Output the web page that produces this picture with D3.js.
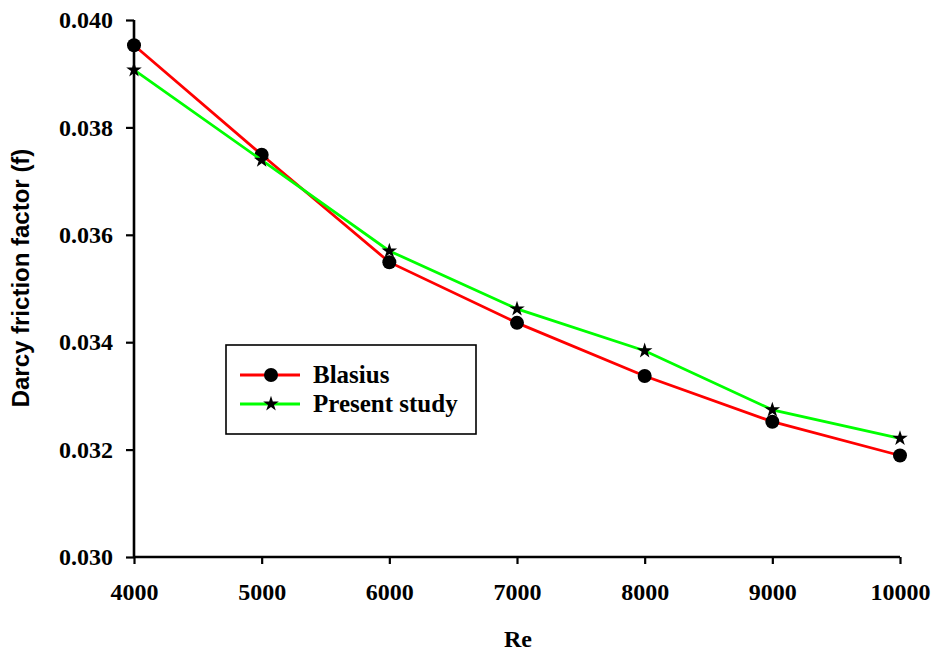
<!DOCTYPE html>
<html>
<head>
<meta charset="utf-8">
<script src="https://cdn.jsdelivr.net/npm/d3@7"></script>
<style>
  html, body { margin: 0; padding: 0; background: #fff; }
  svg { display: block; }
</style>
</head>
<body>
<svg id="chart" width="939" height="656"></svg>
<script>
// Reynolds numbers and friction factors
const reynolds = [4000, 5000, 6000, 7000, 8000, 9000, 10000];
const blasius = [0.03953, 0.03749, 0.03549, 0.03436, 0.03337, 0.03252, 0.03189];
const present = [0.03907, 0.03739, 0.03570, 0.03462, 0.03384, 0.03274, 0.03221];
const xTicks = [4000, 5000, 6000, 7000, 8000, 9000, 10000];
const yTicks = [0.030, 0.032, 0.034, 0.036, 0.038, 0.040];

const svg = d3.select("#chart");
const plot = { left: 134, right: 900, top: 20, bottom: 557 };

const x = d3.scaleLinear().domain([4000, 10000]).range([plot.left, plot.right]);
const y = d3.scaleLinear().domain([0.030, 0.040]).range([plot.bottom, plot.top]);

const serif = "'Liberation Serif', 'Times New Roman', serif";
const sans = "'Liberation Sans', Arial, sans-serif";

// Axes
const xAxis = svg.append("g")
  .attr("transform", `translate(0,${plot.bottom})`)
  .call(d3.axisBottom(x).tickValues(xTicks).tickFormat(d3.format("d")).tickSize(7).tickPadding(19));
const yAxis = svg.append("g")
  .attr("transform", `translate(${plot.left},0)`)
  .call(d3.axisLeft(y).tickValues(yTicks).tickFormat(d3.format(".3f")).tickSize(8).tickPadding(13));

[xAxis, yAxis].forEach(g => {
  g.select(".domain").attr("stroke", "#000").attr("stroke-width", 2.6);
  g.selectAll(".tick line").attr("stroke", "#000").attr("stroke-width", 2.2);
  g.selectAll(".tick text")
    .attr("fill", "#000")
    .style("font-family", serif)
    .style("font-weight", "bold")
    .style("font-size", "24px");
});
// Domain paths without outer tick stubs
xAxis.select(".domain").attr("d", `M${plot.left},0H${plot.right}`);
yAxis.select(".domain").attr("d", `M0,${plot.bottom}V${plot.top}`);

// Axis titles
svg.append("text")
  .attr("x", 518).attr("y", 647)
  .attr("text-anchor", "middle")
  .style("font-family", serif).style("font-weight", "bold").style("font-size", "24px")
  .text("Re");
svg.append("text")
  .attr("transform", "translate(29,278) rotate(-90)")
  .attr("text-anchor", "middle")
  .style("font-family", sans).style("font-weight", "bold").style("font-size", "24px")
  .text("Darcy friction factor (f)");

const line = d3.line().x(d => x(d[0])).y(d => y(d[1]));
const star = d3.symbol().type(d3.symbolStar).size(75);

function drawSeries(values, color, marker) {
  const pts = reynolds.map((r, i) => [r, values[i]]);
  svg.append("path")
    .datum(pts)
    .attr("fill", "none")
    .attr("stroke", color)
    .attr("stroke-width", 2.8)
    .attr("d", line);
  const g = svg.append("g");
  if (marker === "circle") {
    g.selectAll("circle").data(pts).join("circle")
      .attr("cx", d => x(d[0])).attr("cy", d => y(d[1])).attr("r", 7)
      .attr("fill", "#000");
  } else {
    g.selectAll("path").data(pts).join("path")
      .attr("transform", d => `translate(${x(d[0])},${y(d[1])})`)
      .attr("d", star)
      .attr("fill", "#000");
  }
}

drawSeries(blasius, "#ff0000", "circle");
drawSeries(present, "#00ff00", "star");

// Legend
const legend = svg.append("g");
legend.append("rect")
  .attr("x", 226).attr("y", 345).attr("width", 250).attr("height", 89)
  .attr("fill", "#fff").attr("stroke", "#000").attr("stroke-width", 1.6);
const entries = [
  { label: "Blasius", color: "#ff0000", marker: "circle", cy: 375 },
  { label: "Present study", color: "#00ff00", marker: "star", cy: 404 }
];
entries.forEach(e => {
  legend.append("line")
    .attr("x1", 240).attr("x2", 300).attr("y1", e.cy).attr("y2", e.cy)
    .attr("stroke", e.color).attr("stroke-width", 2.8);
  if (e.marker === "circle") {
    legend.append("circle").attr("cx", 271).attr("cy", e.cy).attr("r", 7).attr("fill", "#000");
  } else {
    legend.append("path").attr("transform", `translate(271,${e.cy})`).attr("d", star).attr("fill", "#000");
  }
  legend.append("text")
    .attr("x", 313).attr("y", e.cy + 8)
    .style("font-family", serif).style("font-weight", "bold").style("font-size", "25px")
    .text(e.label);
});
</script>
</body>
</html>
